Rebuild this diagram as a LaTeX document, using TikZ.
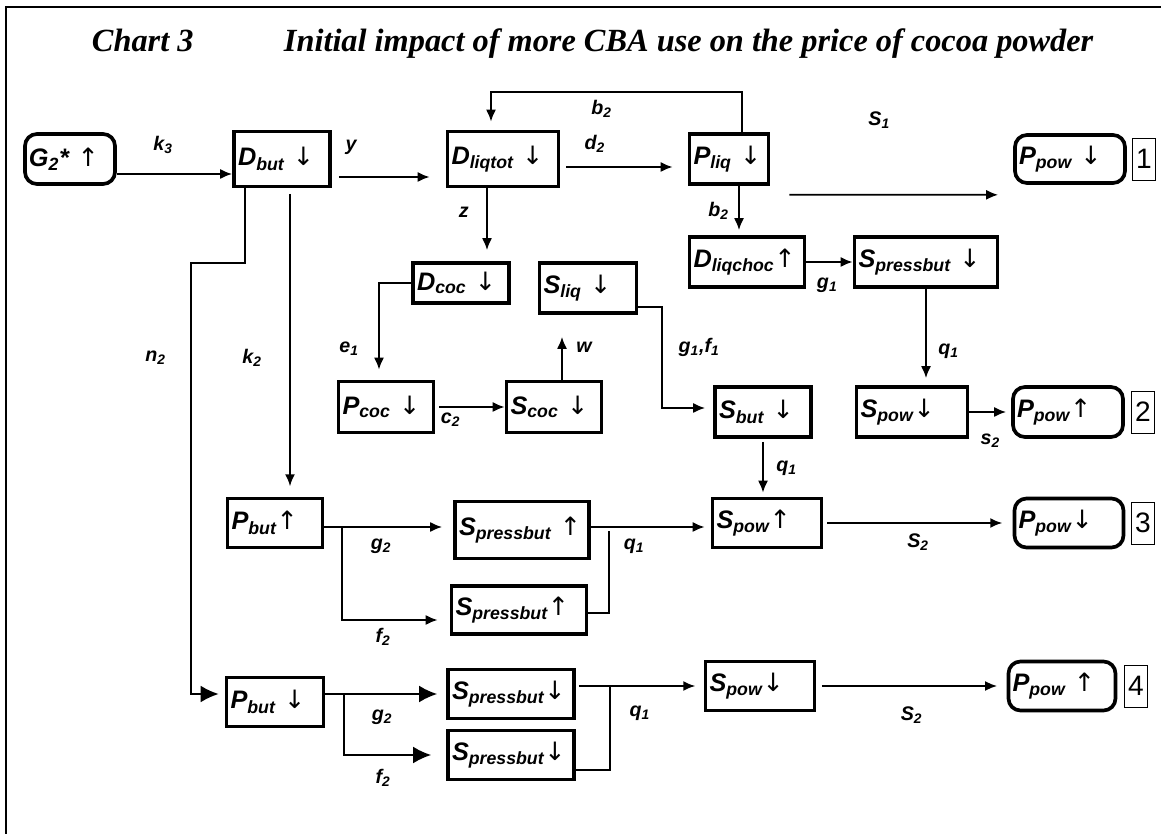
\documentclass[tikz,border=0pt]{standalone}
\usepackage{fontspec}
\setmainfont{Liberation Serif}
\setsansfont{Liberation Sans}
\newfontfamily\arwfont{DejaVu Sans}
\newcommand{\arrdn}{{\arwfont\mdseries\itshape ↓}}
\newcommand{\arrup}{{\arwfont\mdseries\itshape ↑}}
\usetikzlibrary{positioning,arrows.meta,calc}

\begin{document}
\begin{tikzpicture}[
    node distance=2cm, on grid,
    box/.style={draw,line width=2.6pt,inner xsep=0.1cm,inner ysep=0pt,align=left,minimum height=1.25cm,font=\sffamily\bfseries\itshape\fontsize{18}{20}\selectfont},
    rbox/.style={box,rounded corners=0.3cm},
    tw/.style={text width=#1},
    num/.style={draw,line width=0.6pt,inner sep=0pt,minimum width=0.575cm,minimum height=1.05cm,font=\sffamily\fontsize{20}{22}\selectfont},
    lbl/.style={font=\sffamily\bfseries\itshape\fontsize{14}{16}\selectfont,inner sep=1pt},
    arr/.style={-{Latex[length=0.3cm,width=0.25cm]},line width=1.3pt},
    bigarr/.style={-{Latex[length=0.45cm,width=0.42cm]},line width=1.3pt},
    line/.style={line width=1.3pt}
  ]
    \useasboundingbox (0,0) rectangle (29.025,-20.85);
    \draw[line width=1.4pt] (0.15,-20.85) -- (0.15,-0.175) -- (29.025,-0.175);
    \node[anchor=base west,font=\rmfamily\bfseries\itshape\fontsize{23}{28}\selectfont] (chart) at (2.175,-1.3) {Chart 3};
    \node[anchor=base west,font=\rmfamily\bfseries\itshape\fontsize{23}{28}\selectfont] (title) at (6.975,-1.3) {Initial impact of more CBA use on the price of cocoa powder};

    \node[rbox,tw=2.05cm] (g2) at (1.75,-3.975) {G\textsubscript{2}* \arrup};
    \node[box,tw=2.2cm,minimum height=1.375cm,right=5.3cm of g2] (dbut) {D\textsubscript{but} \arrdn};
    \node[box,tw=2.575cm,minimum height=1.375cm,right=5.525cm of dbut] (dliqtot) {D\textsubscript{liqtot} \arrdn};
    \node[box,tw=1.775cm,right=5.65cm of dliqtot] (pliq) {P\textsubscript{liq} \arrdn};
    \node[rbox,tw=2.55cm,minimum height=1.2cm,right=8.525cm of pliq] (ppow1) {P\textsubscript{pow} \arrdn};
    \node[num,right=1.85cm of ppow1] (n1) {1};

    \node[box,tw=2.675cm,below right=2.575cm and 0.45cm of pliq] (dliqchoc) {D\textsubscript{liqchoc}\arrup};
    \node[box,tw=3.375cm,right=4.475cm of dliqchoc] (spb1) {S\textsubscript{pressbut} \arrdn};
    \node[box,tw=2.2cm,minimum height=1cm,below left=3.1cm and 1.05cm of dliqtot] (dcoc) {D\textsubscript{coc} \arrdn};
    \node[box,tw=2.225cm,below right=0.125cm and 3.175cm of dcoc] (sliq) {S\textsubscript{liq} \arrdn};
    \node[box,tw=2.175cm,minimum height=1.275cm,below left=3.1cm and 1.875cm of dcoc] (pcoc) {P\textsubscript{coc} \arrdn};
    \node[box,tw=2.175cm,minimum height=1.275cm,right=4.2cm of pcoc] (scoc) {S\textsubscript{coc} \arrdn};
    \node[box,tw=2.575cm,below left=3.75cm and 0.35cm of spb1] (spow2) {S\textsubscript{pow}\arrdn};
    \node[box,tw=2.2cm,left=3.725cm of spow2] (sbut) {S\textsubscript{but} \arrdn};
    \node[rbox,tw=2.55cm,right=3.9cm of spow2] (ppow2) {P\textsubscript{pow}\arrup};
    \node[num,right=1.875cm of ppow2] (n2) {2};

    \node[box,tw=2.175cm,minimum height=1.225cm,below left=9.1cm and 0.175cm of dbut] (pbut1) {P\textsubscript{but}\arrup};
    \node[box,tw=3.15cm,minimum height=1.425cm,below right=0.175cm and 6.175cm of pbut1] (spb3a) {S\textsubscript{pressbut} \arrup};
    \node[box,tw=3.175cm,minimum height=1.2cm,below left=2cm and 0.075cm of spb3a] (spb3b) {S\textsubscript{pressbut}\arrup};
    \node[box,tw=2.525cm,minimum height=1.225cm,below right=2.775cm and 0.1cm of sbut] (spow3) {S\textsubscript{pow}\arrup};
    \node[rbox,tw=2.525cm,minimum height=1.225cm,right=7.55cm of spow3] (ppow3) {P\textsubscript{pow}\arrdn};
    \node[num,right=1.85cm of ppow3] (n3) {3};

    \node[box,tw=2.225cm,minimum height=1.225cm,below=4.475cm of pbut1] (pbut2) {P\textsubscript{but} \arrdn};
    \node[box,tw=2.95cm,minimum height=1.225cm,above right=0.2cm and 5.9cm of pbut2] (spb4a) {S\textsubscript{pressbut}\arrdn};
    \node[box,tw=2.95cm,minimum height=1.225cm,below=1.525cm of spb4a] (spb4b) {S\textsubscript{pressbut}\arrdn};
    \node[box,tw=2.525cm,minimum height=1.225cm,above right=0.2cm and 6.225cm of spb4a] (spow4) {S\textsubscript{pow}\arrdn};
    \node[rbox,tw=2.475cm,minimum height=1.225cm,right=7.55cm of spow4] (ppow4) {P\textsubscript{pow} \arrup};
    \node[num,right=1.85cm of ppow4] (n4) {4};

    \draw[arr] ([yshift=-0.375cm]g2.east) -- ([yshift=-0.375cm]g2.east -| dbut.west) node[lbl,pos=0.4,above=0.45cm] {k\textsubscript{3}};
    \draw[arr,shorten <=0.175cm,shorten >=0.4cm] ([yshift=-0.45cm]dbut.east) -- ([yshift=-0.45cm]dbut.east -| dliqtot.west) node[lbl,pos=0.17,above=0.5cm] {y};
    \draw[arr,shorten <=0.15cm,shorten >=0.375cm] ([yshift=-0.2cm]dliqtot.east) -- ([yshift=-0.2cm]dliqtot.east -| pliq.west) node[lbl,pos=0.27,above=0.3cm] {d\textsubscript{2}};
    \draw[arr] ([xshift=0.325cm]pliq.north) -- ++(0,1cm) -| ([xshift=-0.3cm,yshift=0.2cm]dliqtot.north) node[lbl,pos=0.28,below=0.15cm] {b\textsubscript{2}};
    \draw[arr] ([xshift=0.475cm,yshift=-0.225cm]pliq.south east) -- ([xshift=-0.375cm,yshift=-0.25cm]ppow1.south west) node[lbl,pos=0.43,above=1.6cm] {S\textsubscript{1}};

    \draw[arr,shorten >=0.125cm] ([xshift=0.25cm]pliq.south) -- ([xshift=0.25cm]pliq.south |- dliqchoc.north) node[lbl,midway,left=0.2cm] {b\textsubscript{2}};
    \draw[arr] (dliqchoc.east) -- (spb1.west) node[lbl,pos=0.45,below=0.35cm] {g\textsubscript{1}};
    \draw[arr,shorten >=0.175cm] (spb1.south) -- (spb1.south |- spow2.north) node[lbl,pos=0.65,right=0.25cm] {q\textsubscript{1}};
    \draw[arr,shorten >=0.125cm] (spow2.east) -- (ppow2.west) node[lbl,pos=0.5,below=0.5cm] {s\textsubscript{2}};
    \draw[arr,shorten >=0.275cm] ([xshift=-0.4cm]dliqtot.south) -- ([xshift=-0.4cm]dliqtot.south |- dcoc.north) node[lbl,pos=0.33,left=0.4cm] {z};
    \draw[arr,shorten >=0.25cm] (dcoc.west) -| ([xshift=-0.175cm]pcoc.north) node[lbl,pos=0.84,left=0.45cm] {e\textsubscript{1}};
    \draw[arr,shorten <=0.1cm] (pcoc.east) -- (scoc.west) node[lbl,pos=0.22,below=0.1cm] {c\textsubscript{2}};
    \draw[arr,shorten >=0.55cm] ([xshift=0.2cm]scoc.north) -- ([xshift=0.2cm]scoc.north |- sliq.south) node[lbl,pos=0.5,right=0.3cm] {w};
    \draw[arr,shorten >=0.2cm] ([yshift=-0.475cm]sliq.east) -- ++(0.6cm,0) |- ([yshift=0.1cm]sbut.west) node[lbl,pos=0.2,right=0.35cm] {g\textsubscript{1},f\textsubscript{1}};
    \draw[arr,shorten <=0.075cm,shorten >=0.1cm] (sbut.south) -- (sbut.south |- spow3.north) node[lbl,pos=0.5,right=0.275cm] {q\textsubscript{1}};

    \draw[arr,shorten <=0.14cm,shorten >=0.26cm] ([xshift=0.2cm]dbut.south) -- ([xshift=0.2cm]dbut.south |- pbut1.north) node[lbl,pos=0.55,left=0.65cm] {k\textsubscript{2}};
    \draw[bigarr,shorten >=0.15cm] ([xshift=-0.925cm]dbut.south) -- ++(0,-1.875cm) -- ++(-1.35cm,0) |- ([yshift=0.2cm]pbut2.west) node[lbl,pos=0.11,left=0.575cm] {n\textsubscript{2}};

    \draw[arr,shorten >=0.275cm] ([yshift=-0.1cm]pbut1.east) -- ([yshift=-0.1cm]pbut1.east -| spb3a.west) node[lbl,pos=0.44,below=0.25cm] {g\textsubscript{2}};
    \draw[arr,shorten >=0.3cm] ([xshift=0.45cm,yshift=-0.1cm]pbut1.east) |- ([yshift=-0.25cm]spb3b.west) node[lbl,pos=0.69,below=0.15cm] {f\textsubscript{2}};
    \draw[arr,shorten >=0.15cm] ($(spb3a.east |- spow3.west)+(0,-0.1cm)$) -- ([yshift=-0.1cm]spow3.west) node[lbl,pos=0.36,below=0.25cm] {q\textsubscript{1}};
    \draw[line] ([yshift=-0.075cm]spb3b.east) -| ($(spb3a.east |- spow3.west)+(0.45cm,-0.2cm)$);
    \draw[arr,shorten <=0.1cm,shorten >=0.26cm] (spow3.east) -- (ppow3.west) node[lbl,pos=0.5,below=0.2cm] {S\textsubscript{2}};

    \draw[bigarr,shorten >=0.225cm] (pbut2.east |- spb4a.west) -- (spb4a.west) node[lbl,pos=0.47,below=0.35cm] {g\textsubscript{2}};
    \draw[bigarr,shorten >=0.375cm] ($(pbut2.east |- spb4a.west)+(0.475cm,0)$) |- (spb4b.west) node[lbl,pos=0.69,below=0.3cm] {f\textsubscript{2}};
    \draw[arr,shorten <=0.075cm,shorten >=0.21cm] (spb4a.east |- spow4.west) -- (spow4.west) node[lbl,pos=0.5,below=0.45cm] {q\textsubscript{1}};
    \draw[line] ([yshift=-0.375cm]spb4b.east) -| ($(spb4a.east |- spow4.west)+(0.85cm,0)$);
    \draw[arr,shorten <=0.14cm,shorten >=0.24cm] (spow4.east) -- (ppow4.west) node[lbl,pos=0.5,below=0.45cm] {S\textsubscript{2}};
  \end{tikzpicture}
\end{document}
